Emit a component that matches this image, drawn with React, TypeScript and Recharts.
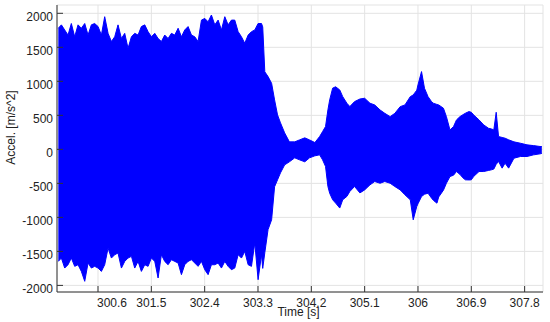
import { ComposedChart, Area, XAxis, YAxis, CartesianGrid } from 'recharts'

// envelope of the acceleration trace
const times = [
  299.93, 299.982, 300.038, 300.094, 300.15, 300.207, 300.263, 300.319, 300.376, 300.432,
  300.488, 300.544, 300.601, 300.657, 300.713, 300.77, 300.826, 300.882, 300.938, 300.995,
  301.051, 301.107, 301.164, 301.22, 301.276, 301.332, 301.389, 301.445, 301.501, 301.558,
  301.614, 301.67, 301.726, 301.783, 301.839, 301.895, 301.952, 302.008, 302.064, 302.12,
  302.177, 302.233, 302.289, 302.346, 302.402, 302.458, 302.514, 302.571, 302.627, 302.683,
  302.74, 302.796, 302.852, 302.908, 302.965, 303.021, 303.077, 303.134, 303.19, 303.246,
  303.302, 303.359, 303.38, 303.415, 303.47, 303.53, 303.58, 303.63, 303.68, 303.75,
  303.83, 303.92, 304.0, 304.09, 304.17, 304.26, 304.34, 304.39, 304.44, 304.48,
  304.51, 304.56, 304.61, 304.68, 304.73, 304.8, 304.85, 304.93, 305.02, 305.1,
  305.19, 305.27, 305.36, 305.44, 305.53, 305.61, 305.7, 305.78, 305.87, 305.92,
  305.98, 306.0, 306.06, 306.11, 306.17, 306.23, 306.26, 306.32, 306.35, 306.43,
  306.48, 306.54, 306.6, 306.65, 306.71, 306.76, 306.8, 306.86, 306.9, 306.94,
  307.03, 307.11, 307.19, 307.24, 307.28, 307.32, 307.36, 307.42, 307.47, 307.53,
  307.62, 307.73, 307.84, 307.95, 308.06, 308.09,
]

const upper = [
  1780, 1830, 1755, 1680, 1850, 1655, 1830, 1780, 1850, 1680,
  1830, 1850, 1805, 1680, 1950, 1705, 1585, 1655, 1830, 1630,
  1705, 1485, 1655, 1705, 1680, 1805, 1830, 1730, 1655, 1705,
  1630, 1585, 1680, 1630, 1705, 1680, 1780, 1655, 1755, 1805,
  1680, 1655, 1585, 1900, 1925, 1875, 1975, 1830, 1900, 1755,
  1950, 1830, 1900, 1900, 1730, 1655, 1560, 1680, 1730, 1755,
  1850, 1850, 1800, 1140, 1070, 970, 727, 506, 389, 242,
  110, 110, 139, 169, 139, 100, 188, 261, 335, 580,
  727, 900, 920, 873, 775, 678, 629, 702, 740, 751,
  678, 653, 579, 530, 481, 530, 628, 653, 775, 800,
  870, 947, 1143, 898, 775, 700, 678, 660, 653, 604,
  481, 285, 335, 433, 482, 510, 531, 555, 545, 506,
  433, 359, 310, 300, 286, 545, 188, 175, 164, 140,
  110, 90, 66, 55, 42, 42,
]

const lower = [
  -1647, -1598, -1745, -1696, -1598, -1720, -1696, -1794, -1940, -1671,
  -1745, -1720, -1745, -1794, -1696, -1451, -1598, -1549, -1524, -1745,
  -1647, -1598, -1573, -1745, -1647, -1794, -1696, -1720, -1598, -1647,
  -1891, -1549, -1647, -1696, -1622, -1647, -1671, -1842, -1696, -1647,
  -1622, -1671, -1720, -1647, -1769, -1842, -1696, -1696, -1671, -1745,
  -1647, -1720, -1769, -1745, -1549, -1598, -1500, -1696, -1720, -1377,
  -1916, -1549, -1750, -1520, -1180, -1035, -550, -448, -345, -228,
  -183, -125, -154, -183, -125, -95, -81, -154, -252, -546,
  -645, -741, -790, -863, -741, -692, -619, -546, -640, -596,
  -522, -473, -498, -473, -498, -547, -596, -669, -742, -1036,
  -840, -800, -694, -660, -645, -718, -750, -791, -700, -600,
  -498, -400, -380, -326, -370, -420, -448, -450, -448, -399,
  -326, -326, -310, -301, -290, -220, -178, -276, -203, -276,
  -130, -105, -105, -81, -66, -60,
]

const xTicks = [300.6, 301.5, 302.4, 303.3, 304.2, 305.1, 306, 306.9, 307.8]
const yTicks = [-2000, -1500, -1000, -500, 0, 500, 1000, 1500, 2000]

const data = times.map((t, i) => ({ t, range: [lower[i], upper[i]] }))

const font = 'Arial, "Liberation Sans", sans-serif'

function TimeTick({ x, y, payload, index }: any) {
  // first label sits a bit to the right of its tick, as in the source plot
  const shift = index === 0 ? 14 : 0
  return (
    <text x={x + shift} y={y + 9} textAnchor="middle" fontSize={12} fontFamily={font} fill="#222">
      {payload.value}
    </text>
  )
}

export default function App() {
  return (
    <div style={{ position: 'absolute', left: 0, top: 0, background: '#fff' }}>
      <ComposedChart width={550} height={322} data={data} margin={{ top: 5, right: 7, bottom: 0, left: 0 }}>
        <CartesianGrid stroke="#e3e3e3" strokeWidth={1} />
        <XAxis
          dataKey="t"
          type="number"
          domain={[299.908, 308.11]}
          ticks={xTicks}
          allowDataOverflow
          height={30}
          tickSize={-6}
          tickMargin={12}
          tick={<TimeTick />}
          stroke="#333"
          label={{ value: 'Time [s]', position: 'center', dx: -1.5, dy: 4.5, fontSize: 12, fontFamily: font, fill: '#222' }}
        />
        <YAxis
          type="number"
          domain={[-2097, 2122]}
          ticks={yTicks}
          allowDataOverflow
          width={57}
          tickSize={-6}
          tickMargin={10}
          stroke="#333"
          tick={{ fontSize: 12, fontFamily: font, fill: '#222', dy: 3 }}
          label={{ value: 'Accel. [m/s^2]', angle: -90, position: 'center', dx: -17.5, dy: -21, fontSize: 12, fontFamily: font, fill: '#222' }}
        />
        <Area
          dataKey="range"
          type="linear"
          stroke="#0000ff"
          strokeWidth={1}
          fill="#0000ff"
          fillOpacity={1}
          isAnimationActive={false}
          dot={false}
          activeDot={false}
        />
      </ComposedChart>
    </div>
  )
}
